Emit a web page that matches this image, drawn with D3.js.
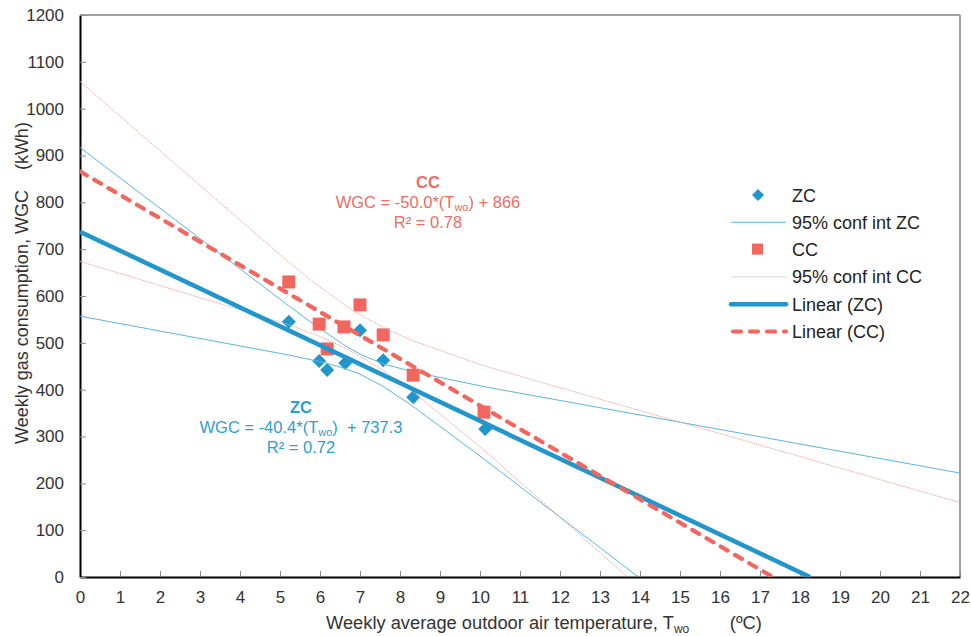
<!DOCTYPE html>
<html><head><meta charset="utf-8">
<script src="https://cdn.jsdelivr.net/npm/d3@7"></script>
<style>body{margin:0;background:#fff}svg{display:block}text{font-family:"Liberation Sans",Arial,sans-serif}</style>
</head><body><svg id="c" width="971" height="636"></svg>
<script>
// ---- data ----
const zcX = [5.22, 5.98, 6.18, 6.63, 7.0, 7.58, 8.33, 10.13];
const zcY = [545, 461, 442, 457, 527, 463, 384, 316];
const ccX = [5.22, 5.98, 6.18, 6.6, 7.0, 7.58, 8.33, 10.1];
const ccY = [630, 540, 487, 534, 581, 517, 431, 352];
// 95% confidence interval polylines
const ciZcUpX = [0, 5.22, 5.98, 6.18, 6.63, 7.0, 7.58, 8.33, 10.13, 22];
const ciZcUpY = [917, 579, 531, 520, 494, 476, 455, 438, 406, 222];
const ciZcLoX = [0, 5.22, 5.98, 6.18, 6.63, 7.0, 7.58, 8.33, 10.13, 13.96];
const ciZcLoY = [557, 474, 460, 456, 445, 433, 407, 364, 250, 0];
const ciCcUpX = [0, 5.22, 5.98, 6.18, 6.6, 7.0, 7.58, 8.33, 10.1, 22];
const ciCcUpY = [1058, 672, 620, 608, 582, 560, 533, 504, 451, 159];
const ciCcLoX = [0, 5.22, 5.98, 6.18, 6.6, 7.0, 7.58, 8.33, 10.1, 13.69];
const ciCcLoY = [674, 539, 514, 507, 490, 472, 441, 395, 271, 0];
// linear fits
const zcFit = {slope: -40.4, intercept: 737.3};
const ccFit = {slope: -50.0, intercept: 866};
const xTicks = d3.range(0, 23, 1);
const yTicks = d3.range(0, 1201, 100);

// ---- colours ----
const blue = "#2196cc", blueThin = "#5ab6e0", red = "#f26660", redThin = "#f5a29d";

const svg = d3.select("#c");
const L = 80, R = 960, T = 15, B = 577;
const x = d3.scaleLinear().domain([0, 22]).range([L, R]);
const y = d3.scaleLinear().domain([0, 1200]).range([B, T]);

svg.append("defs").append("clipPath").attr("id","clip")
  .append("rect").attr("x",L).attr("y",T).attr("width",R-L).attr("height",B-T);

// frame (top/right grey)
svg.append("line").attr("x1",L).attr("x2",R).attr("y1",T).attr("y2",T).attr("stroke","#a0a0a0").attr("stroke-width",2);
svg.append("line").attr("x1",R).attr("x2",R).attr("y1",T).attr("y2",B).attr("stroke","#a0a0a0").attr("stroke-width",2);

// axes
const xAxis = d3.axisBottom(x).tickValues(xTicks).tickSizeInner(-6).tickSizeOuter(0).tickPadding(14).tickFormat(d3.format("d"));
const gx = svg.append("g").attr("transform",`translate(0,${B})`).call(xAxis);
const yAxis = d3.axisLeft(y).tickValues(yTicks).tickSizeInner(-6).tickSizeOuter(0).tickPadding(16).tickFormat(d3.format("d"));
const gy = svg.append("g").attr("transform",`translate(${L},0)`).call(yAxis);
[gx, gy].forEach(g => {
  g.select(".domain").attr("stroke","#000").attr("stroke-width",2);
  g.selectAll(".tick line").attr("stroke","#8a8a8a").attr("stroke-width",1);
  g.selectAll(".tick text").attr("fill","#333").style("font-size","17px");
});

const plot = svg.append("g").attr("clip-path","url(#clip)");
const line = d3.line().x(d => x(d[0])).y(d => y(d[1]));
const pairs = (xs, ys) => xs.map((v,i) => [v, ys[i]]);

// ZC points
plot.selectAll(".zc").data(pairs(zcX, zcY)).enter().append("path")
  .attr("d", d3.symbol(d3.symbolDiamond2, 125)())
  .attr("transform", d => `translate(${x(d[0])},${y(d[1])})`)
  .attr("fill", blue);
// CI ZC
[pairs(ciZcUpX, ciZcUpY), pairs(ciZcLoX, ciZcLoY)].forEach(p =>
  plot.append("path").attr("d", line(p)).attr("fill","none").attr("stroke",blueThin).attr("stroke-width",1));
// CC points
plot.selectAll(".cc").data(pairs(ccX, ccY)).enter().append("rect")
  .attr("x", d => x(d[0]) - 6.5).attr("y", d => y(d[1]) - 6.5)
  .attr("width", 13).attr("height", 13).attr("fill", red);
// CI CC
[pairs(ciCcUpX, ciCcUpY), pairs(ciCcLoX, ciCcLoY)].forEach(p =>
  plot.append("path").attr("d", line(p)).attr("fill","none").attr("stroke",redThin).attr("stroke-width",1).attr("stroke-dasharray","1.2,0.8"));
// trend lines
function fitPts(f){ const x0 = -f.intercept / f.slope; return [[0, f.intercept],[x0, 0]]; }
plot.append("path").attr("d", line(fitPts(zcFit))).attr("fill","none").attr("stroke",blue).attr("stroke-width",4.5);
plot.append("path").attr("d", line(fitPts(ccFit))).attr("fill","none").attr("stroke",red).attr("stroke-width",4.2)
  .attr("stroke-dasharray","8,8.5").attr("stroke-linecap","round");

// axis titles
svg.append("text").attr("transform","translate(28,283) rotate(-90)").attr("text-anchor","middle")
  .attr("fill","#333").style("font-size","18px").attr("xml:space","preserve")
  .text("Weekly gas consumption, WGC    (kWh)");
const xt = svg.append("text").attr("x",326).attr("y",629).attr("fill","#333").style("font-size","18.3px").attr("xml:space","preserve");
xt.append("tspan").text("Weekly average outdoor air temperature, T");
xt.append("tspan").attr("dy",4).style("font-size","12px").text("wo");
xt.append("tspan").attr("dy",-4).text("        (ºC)");

// annotations
function eq(cx, cy, col, title, a, b, r2){
  svg.append("text").attr("x",cx).attr("y",cy).attr("text-anchor","middle").attr("fill",col)
    .style("font-size","16.5px").style("font-weight","bold").text(title);
  const t = svg.append("text").attr("x",cx).attr("y",cy+20).attr("text-anchor","middle").attr("fill",col)
    .style("font-size","16.5px").attr("xml:space","preserve");
  t.append("tspan").text(a);
  t.append("tspan").attr("dy",3).style("font-size","11px").text("wo");
  t.append("tspan").attr("dy",-3).text(b);
  svg.append("text").attr("x",cx).attr("y",cy+40).attr("text-anchor","middle").attr("fill",col)
    .style("font-size","16.5px").text(r2);
}
eq(428, 188, "#f26a64", "CC", "WGC = -50.0*(T", ") + 866", "R² = 0.78");
eq(301, 413, "#2a9fd6", "ZC", "WGC = -40.4*(T", ")  + 737.3", "R² = 0.72");

// legend
const lg = svg.append("g");
const rows = ["ZC","95% conf int ZC","CC","95% conf int CC","Linear (ZC)","Linear (CC)"];
rows.forEach((r,i) => {
  const yy = 195 + i*27.3;
  lg.append("text").attr("x",792).attr("y",yy+6.5).attr("fill","#222").style("font-size","18px").text(r);
});
lg.append("path").attr("d", d3.symbol(d3.symbolDiamond2, 90)()).attr("transform","translate(758,195)").attr("fill",blue);
lg.append("line").attr("x1",731).attr("x2",786).attr("y1",222.3).attr("y2",222.3).attr("stroke",blueThin).attr("stroke-width",1);
lg.append("rect").attr("x",752).attr("y",243.6).attr("width",11).attr("height",11).attr("fill",red);
lg.append("line").attr("x1",731).attr("x2",786).attr("y1",276.9).attr("y2",276.9).attr("stroke",redThin).attr("stroke-width",1).attr("stroke-dasharray","1.2,0.8");
lg.append("line").attr("x1",731).attr("x2",786).attr("y1",304.2).attr("y2",304.2).attr("stroke",blue).attr("stroke-width",4.5).attr("stroke-linecap","round");
lg.append("line").attr("x1",733).attr("x2",786).attr("y1",331.5).attr("y2",331.5).attr("stroke",red).attr("stroke-width",4.2).attr("stroke-dasharray","8,9").attr("stroke-linecap","round");
</script></body></html>
